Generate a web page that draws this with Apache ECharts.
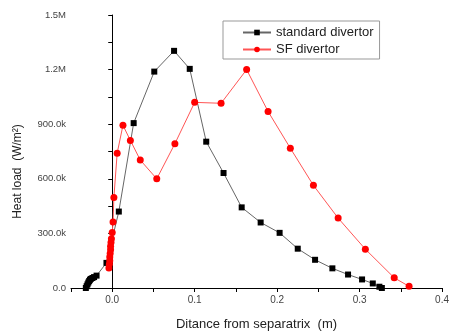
<!DOCTYPE html>
<html>
<head>
<meta charset="utf-8">
<script src="https://cdn.jsdelivr.net/npm/echarts@6/dist/echarts.min.js"></script>
<style>
  html, body { margin: 0; padding: 0; background: #fff; }
  #chart { width: 452px; height: 336px; }
</style>
</head>
<body>
<div id="chart"></div>
<script>
// standard divertor: distance (m) / heat load (W/m2)
const stdX = [-0.032, -0.031, -0.030, -0.029, -0.028, -0.027, -0.026, -0.024, -0.022, -0.019,
  -0.007, 0.008, 0.026, 0.051, 0.075, 0.094, 0.114, 0.135, 0.157, 0.180, 0.203, 0.225,
  0.246, 0.267, 0.286, 0.303, 0.316, 0.324, 0.327];
const stdY = [0, 10000, 20000, 30000, 38000, 45000, 50000, 55000, 60000, 68000,
  138000, 420000, 906000, 1189000, 1303000, 1204000, 804000, 632000, 443000, 360000, 303000, 216000,
  155000, 108000, 74000, 47000, 25000, 7000, 0];

// SF divertor
const sfX = [-0.004, -0.0035, -0.003, -0.003, -0.0025, -0.002, -0.002, -0.0015, -0.001, 0.0,
  0.001, 0.002, 0.006, 0.013, 0.022, 0.034, 0.054, 0.076, 0.100, 0.132, 0.163, 0.189,
  0.216, 0.244, 0.274, 0.307, 0.342, 0.360];
const sfY = [110000, 130000, 150000, 170000, 190000, 210000, 230000, 250000, 270000, 305000,
  362000, 497000, 741000, 894000, 811000, 703000, 600000, 793000, 1020000, 1015000, 1200000, 970000,
  768000, 564000, 384000, 213000, 56000, 9000];

const pair = (xs, ys) => xs.map((x, i) => [x, ys[i]]);

const chart = echarts.init(document.getElementById('chart'));
const font = 'Liberation Sans';

chart.setOption({
  animation: false,
  grid: { left: 71, right: 4, top: 15, bottom: 43 },
  legend: {
    orient: 'vertical',
    left: 223,
    top: 21,
    itemWidth: 28,
    itemHeight: 7,
    itemGap: 4,
    padding: [5, 6, 3, 19],
    borderColor: '#999',
    borderWidth: 1,
    textStyle: { color: '#222', fontSize: 13, fontFamily: font },
    data: ['standard divertor', 'SF divertor'],
  },
  xAxis: {
    type: 'value',
    min: -0.05,
    max: 0.4,
    interval: 0.05,
    name: 'Ditance from separatrix  (m)',
    nameLocation: 'middle',
    nameGap: 30,
    nameTextStyle: { color: '#222', fontSize: 13, fontFamily: font },
    axisLine: { lineStyle: { color: '#000', width: 1 } },
    axisTick: { length: 4, lineStyle: { color: '#000' } },
    splitLine: { show: false },
    axisLabel: {
      color: '#444',
      fontSize: 10,
      fontFamily: font,
      margin: 7,
      showMinLabel: true,
      showMaxLabel: true,
      formatter: (v) => (Math.abs(Math.round(v * 100)) % 10 === 0 ? v.toFixed(1) : ''),
    },
  },
  yAxis: {
    type: 'value',
    min: 0,
    max: 1500000,
    interval: 300000,
    name: 'Heat load  (W/m²)',
    nameLocation: 'middle',
    nameGap: 47,
    nameTextStyle: { color: '#222', fontSize: 12, fontFamily: font, padding: [0, 40, 0, 0] },
    axisLine: { show: true, lineStyle: { color: '#000', width: 1 } },
    axisTick: { show: true, length: 4, lineStyle: { color: '#000' } },
    minorTick: { show: true, splitNumber: 2, length: 4, lineStyle: { color: '#000' } },
    splitLine: { show: false },
    axisLabel: {
      color: '#444',
      fontSize: 9.5,
      fontFamily: font,
      margin: 5,
      formatter: (v) => (v === 0 ? '0.0' : v >= 1200000 ? (v / 1e6).toFixed(1) + 'M' : (v / 1000).toFixed(1) + 'k'),
    },
  },
  series: [
    {
      name: 'standard divertor',
      type: 'line',
      data: pair(stdX, stdY),
      symbol: 'rect',
      symbolSize: 6,
      itemStyle: { color: '#000' },
      lineStyle: { color: '#666', width: 1 },
    },
    {
      name: 'SF divertor',
      type: 'line',
      data: pair(sfX, sfY),
      symbol: 'circle',
      symbolSize: 7,
      itemStyle: { color: '#f00' },
      lineStyle: { color: '#f55', width: 1 },
      z: 3,
    },
  ],
});
</script>
</body>
</html>
